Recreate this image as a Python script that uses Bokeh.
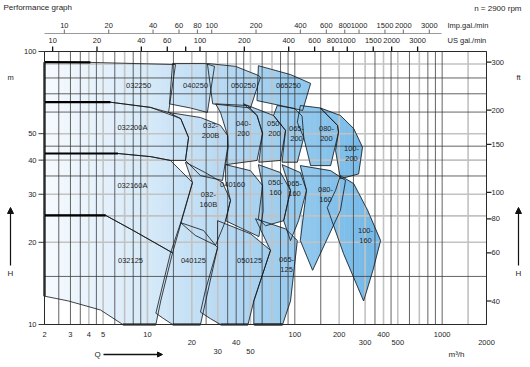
import math
from bokeh.plotting import figure
from bokeh.models import Range1d, Arrow, NormalHead
from bokeh.embed import file_html
from bokeh.resources import INLINE
from bokeh.core.properties import value

# ---------------- axis values ----------------
q_ticks = [2, 3, 4, 5, 10, 20, 30, 40, 50, 100, 200, 300, 400, 500, 1000, 2000]
q_tick_row = [0, 0, 0, 0, 0, 1, 2, 1, 2, 0, 0, 1, 0, 1, 0, 1]
h_ticks = [10, 20, 30, 40, 50, 100]
ft_ticks = [40, 60, 80, 100, 150, 200, 300]
us_gpm = [10, 20, 40, 60, 80, 100, 200, 400, 600, 800, 1000, 1500, 2000, 3000]
us_gpm_text = ["10", "20", "40", "60", "", "100", "200", "400", "600", "800", "1000", "1500", "2000", "3000"]
imp_gpm = [10, 20, 40, 60, 80, 100, 200, 400, 600, 800, 1000, 1500, 2000, 3000]
grid_steps = [1, 1.5, 2, 2.5, 3, 3.5, 4, 4.5, 5, 6, 7, 8, 9]
q_grid_light = [4, 5, 7, 10, 20, 30, 50, 70, 200, 300, 400, 500, 700, 1500]
h_grid_light = [20, 25, 30, 40, 50, 90]

# ---------------- tiles (Q m3/h, H m) ----------------
T_032250 = [(2, 91.4), (4.1, 91.2), (15.5, 89.6), (13.9, 59.8), (10.5, 62.4), (5.6, 65.2), (2, 65.2)]
T_032200A = [(2, 65.2), (5.6, 65.2), (10.5, 62.4), (16.8, 56.8), (19.0, 48.4), (18.1, 39.9), (14.3, 39.9), (10.5, 41.2), (6.3, 42.3), (2, 42.3)]
T_032160A = [(2, 42.3), (6.3, 42.3), (10.5, 41.2), (14.3, 39.9), (16.8, 36.6), (20.2, 33.1), (14.8, 18.3), (8.0, 22.1), (5.2, 25.1), (2, 25.1)]
T_032125 = [(2, 25.1), (5.2, 25.1), (8.0, 22.1), (14.8, 18.3), (12.3, 12.2), (11.4, 10), (6.8, 10), (4.8, 11.3), (2.9, 12.2), (2, 12.7)]
T_040250 = [(14.8, 90.4), (24.7, 90.4), (28.5, 88.2), (25.5, 59.8), (19.6, 62.1), (14.1, 64.3)]
T_050250 = [(25.5, 90.4), (39.6, 88.2), (56.6, 81.7), (58.5, 80.5), (50, 62.1), (27.7, 64.3)]
T_065250 = [(56.6, 88.7), (93.5, 82.3), (128, 76.4), (113, 60.8), (80, 63.4), (55.4, 66.1)]
T_032200B = [(13.9, 59.8), (22.9, 57.3), (31.3, 53.6), (35, 49.2), (35, 44.6), (32.3, 33.7), (22.9, 35.1), (18.1, 39.9), (19.0, 48.4), (16.8, 56.8)]
T_040200 = [(29, 64.3), (47.8, 63.4), (55.4, 58.3), (60.4, 50.1), (55.4, 39.9), (34, 38.5), (35.3, 44.6), (35, 49.2), (31.3, 59.8)]
T_050200 = [(44.8, 64.3), (71.7, 58.3), (86.5, 51.4), (80, 39.9), (57, 39.3), (60.4, 50.1), (55.4, 58.3)]
T_065200 = [(76, 63.4), (100, 61.8), (112, 58), (115, 48.4), (104, 39.3), (82, 39.3), (86.5, 51.4), (71.7, 58.3)]
T_080200 = [(109, 63.4), (149, 62.1), (195, 53.6), (198, 50.6), (175, 38.2), (128, 38.2), (115, 48.4), (104, 55)]
T_100200 = [(149, 62.1), (204, 58.3), (251, 52.2), (288, 44.6), (271, 35.6), (204, 34.2), (189, 43.4), (198, 50.6), (195, 53.6)]
T_032160B = [(18.1, 39.3), (24.7, 36), (32.3, 33.1), (36.6, 28.5), (33.9, 24), (29, 19.5), (21.1, 21.2), (16.8, 23.6), (20.2, 33.1)]
T_040160 = [(33.9, 38.5), (50, 36.6), (60.4, 32.3), (61, 26), (57, 21), (45, 22.3), (33.9, 24), (36.6, 28.5), (33.9, 33.7)]
T_050160 = [(56.6, 38.5), (80, 36), (93.5, 31), (84, 24), (63.3, 23), (56.6, 24.4), (60.4, 32.3)]
T_065160 = [(82, 38.5), (109, 36), (120, 31), (106, 24), (93.5, 20.3), (84, 24), (93.5, 31)]
T_080160 = [(109, 38.2), (175, 36.6), (221, 33.7), (204, 26.2), (132, 15.8), (109, 20.3), (120, 31)]
T_100160 = [(204, 35.1), (251, 32.8), (312, 26.2), (382, 20.3), (339, 15.8), (293, 12.2), (214, 18.2), (166, 26.8), (189, 31)]
T_040125 = [(16.8, 23.6), (24, 22.1), (29.9, 19.1), (22.9, 10), (14.8, 10), (12.9, 10.5), (11.4, 11), (14.3, 18.2)]
T_050125 = [(29.9, 24), (50, 21.5), (68.4, 18.7), (52.7, 12.2), (48.1, 10), (31.3, 10), (26.8, 10.5), (22.9, 11.1), (24.7, 13.3), (29.9, 19.1)]
T_065125 = [(54.1, 24.4), (86.5, 22.4), (104, 20.3), (93.5, 12.2), (82.6, 10), (52.7, 10), (52.7, 12.2), (68.4, 18.7)]

tiles = [T_032250, T_032200A, T_032160A, T_032125, T_040250, T_050250, T_065250,
         T_032200B, T_040200, T_050200, T_065200, T_080200, T_100200,
         T_032160B, T_040160, T_050160, T_065160, T_080160, T_100160,
         T_040125, T_050125, T_065125]
shutoff_tiles = [T_032250, T_032200A, T_032160A, T_032125]

tile_names = ["032250", "040250", "050250", "065250",
              "032200A", "032-\n200B", "040-\n200", "050-\n200", "065-\n200", "080-\n200", "100-\n200",
              "032160A", "032-\n160B", "040160", "050-\n160", "065-\n160", "080-\n160", "100-\n160",
              "032125", "040125", "050125", "065-\n125"]
tile_name_q = [8.7, 21.2, 44.8, 90.6,
               7.9, 26.8, 44.8, 72.8, 102.7, 164, 242.5,
               7.9, 25.9, 37.8, 74, 99.5, 161.6, 301.9,
               7.67, 20.5, 49.3, 87.9]
tile_name_h = [75, 75, 75, 75,
               52.7, 51.4, 52.2, 52.2, 50.1, 50.1, 42.3,
               32.3, 28.7, 32.6, 31.8, 31.5, 29.9, 21.2,
               17.2, 17.2, 17.2, 16.6]

# ---------------- layout helpers (reference pixel -> data) ----------------
PX = 442 / 3.0
PY = 273.0


def qx(rx):
    return 2 * 10 ** ((rx - 44) / PX)


def hy(ry):
    return 10 * 10 ** ((324 - ry) / PY)


FONT = value("Liberation Sans")
TXT = "#1e1e1e"
WIDTH, HEIGHT = 522, 359

p = figure(width=WIDTH, height=HEIGHT, x_axis_type="log", y_axis_type="log",
           x_range=Range1d(qx(0), qx(WIDTH)), y_range=Range1d(hy(HEIGHT), hy(0)),
           x_axis_location=None, y_axis_location=None,
           toolbar_location=None, output_backend="svg", min_border=0,
           outline_line_color=None, background_fill_color="white",
           border_fill_color="white")
p.grid.visible = False
p.title.visible = False

# ---------------- gradient fill of tiles ----------------
stops_q = [2, 10, 30, 100, 300, 2000]
stops_c = [(246, 250, 254), (214, 234, 249), (186, 218, 243), (150, 202, 238), (118, 186, 232), (110, 180, 230)]


def grad(lq):
    ls = [math.log10(s) for s in stops_q]
    if lq <= ls[0]:
        c = stops_c[0]
    else:
        c = stops_c[-1]
        for i in range(len(ls) - 1):
            if ls[i] <= lq <= ls[i + 1]:
                t = (lq - ls[i]) / (ls[i + 1] - ls[i])
                c = tuple(stops_c[i][k] + t * (stops_c[i + 1][k] - stops_c[i][k]) for k in range(3))
                break
    return "#%02x%02x%02x" % tuple(int(round(v)) for v in c)


def clip_half(poly, x0, keep_right):
    out = []
    n = len(poly)
    for i in range(n):
        cx, cy = poly[i]
        px_, py_ = poly[i - 1]
        cin = cx >= x0 if keep_right else cx <= x0
        pin = px_ >= x0 if keep_right else px_ <= x0
        if cin:
            if not pin:
                t = (x0 - px_) / (cx - px_)
                out.append((x0, py_ + t * (cy - py_)))
            out.append((cx, cy))
        elif pin:
            t = (x0 - px_) / (cx - px_)
            out.append((x0, py_ + t * (cy - py_)))
    return out


NSTRIP = 70
l0, l1 = math.log10(2), math.log10(400)
sx, sy, sc = [], [], []
for k in range(NSTRIP):
    a = l0 + (l1 - l0) * k / NSTRIP
    b = l0 + (l1 - l0) * (k + 1) / NSTRIP
    col = grad((a + b) / 2)
    for tile in tiles:
        lp = [(math.log10(q), math.log10(h)) for q, h in tile]
        c1 = clip_half(lp, a, True)
        if len(c1) < 3:
            continue
        c2 = clip_half(c1, b, False)
        if len(c2) < 3:
            continue
        sx.append([10 ** u for u, _ in c2])
        sy.append([10 ** v for _, v in c2])
        sc.append(col)
p.patches(sx, sy, fill_color=sc, line_color=sc, line_width=0.6)

# ---------------- grid ----------------
qg = sorted(set(round(s * d, 6) for d in [1, 10, 100, 1000] for s in grid_steps if 2 <= s * d <= 2000) | {2000})
hg = sorted(set(round(s * 10, 6) for s in grid_steps) | {100})
dark_q = [v for v in qg if v not in q_grid_light]
light_q = [v for v in qg if v in q_grid_light]
dark_h = [v for v in hg if v not in h_grid_light]
light_h = [v for v in hg if v in h_grid_light]
p.multi_line([[v, v] for v in light_q], [[10, 100]] * len(light_q), line_color="#c2c2c2", line_width=1.6)
p.multi_line([[2, 2000]] * len(light_h), [[v, v] for v in light_h], line_color="#c2c2c2", line_width=1.6)
p.multi_line([[v, v] for v in dark_q], [[10, 100]] * len(dark_q), line_color="#3c3c3c", line_width=0.8)
p.multi_line([[2, 2000]] * len(dark_h), [[v, v] for v in dark_h], line_color="#3c3c3c", line_width=0.8)

# ---------------- tile outlines ----------------
p.patches([[q for q, _ in t] for t in tiles], [[h for _, h in t] for t in tiles],
          fill_alpha=0, line_color="#151515", line_width=0.8)

# thick edges: Q=2 edge, H=10 edge, shutoff head lines
tx, ty = [], []
for t in tiles:
    for i in range(len(t)):
        (q1, h1), (q2, h2) = t[i - 1], t[i]
        if (q1 == 2 and q2 == 2) or (h1 == 10 and h2 == 10):
            tx.append([q1, q2])
            ty.append([h1, h2])
for t in shutoff_tiles:
    tx.append([t[0][0], t[1][0]])
    ty.append([t[0][1], t[1][1]])
p.multi_line(tx, ty, line_color="black", line_width=2.2)

# ---------------- tile labels ----------------
p.text(tile_name_q, tile_name_h, text=tile_names, text_font=FONT, text_font_size="7.5px",
       text_align="center", text_baseline="middle", text_color=TXT, text_line_height=1.15)

# ---------------- axes ----------------
# left H (m)
p.ray([2] * len(h_ticks), h_ticks, length=6, length_units="screen", angle=math.pi, line_color="#222", line_width=0.9)
p.text([qx(36)] * len(h_ticks), h_ticks, text=[str(v) for v in h_ticks], text_font=FONT,
       text_font_size="7.5px", text_align="right", text_baseline="middle", text_color=TXT)
# right H (ft)
ft_m = [v * 0.3048 for v in ft_ticks]
p.ray([2000] * len(ft_m), ft_m, length=5, length_units="screen", angle=0, line_color="#222", line_width=1.2)
p.text([qx(491)] * len(ft_m), ft_m, text=[str(v) for v in ft_ticks], text_font=FONT,
       text_font_size="7.5px", text_align="left", text_baseline="middle", text_color=TXT)
# bottom Q (m3/h)
row_y = [334, 342, 351]
p.text(q_ticks, [hy(row_y[r]) for r in q_tick_row], text=[str(v) for v in q_ticks], text_font=FONT,
       text_font_size="7.5px", text_align="center", text_baseline="middle", text_color=TXT)
# top US gal/min
us_q = [v * 0.2271247 for v in us_gpm]
p.ray(us_q, [100] * len(us_q), length=5, length_units="screen", angle=math.pi / 2, line_color="#111",
      line_width=1.3)
p.text(us_q, [hy(40)] * len(us_q), text=us_gpm_text, text_font=FONT, text_font_size="7.5px",
       text_align="center", text_baseline="middle", text_color=TXT)
p.text([qx(447)], [hy(40)], text=["US gal./min"], text_font=FONT, text_font_size="7.5px",
       text_align="left", text_baseline="middle", text_color=TXT)
# top Imp gal/min
imp_q = [v * 0.2727654 for v in imp_gpm]
p.line([2, qx(441)], [hy(33), hy(33)], line_color="#9a9a9a", line_width=1.2)
p.ray(imp_q, [hy(33)] * len(imp_q), length=4, length_units="screen", angle=math.pi / 2,
      line_color="#777", line_width=1.1)
p.text(imp_q, [hy(25)] * len(imp_q), text=[str(v) for v in imp_gpm], text_font=FONT, text_font_size="7.5px",
       text_align="center", text_baseline="middle", text_color=TXT)
p.text([qx(447)], [hy(25)], text=["Imp.gal./min"], text_font=FONT, text_font_size="7.5px",
       text_align="left", text_baseline="middle", text_color=TXT)

# frame lines
p.multi_line([[2, 2000], [2, 2000], [2, 2], [2000, 2000]], [[10, 10], [100, 100], [10, 100], [10, 100]],
             line_color="#2a2a2a", line_width=1.0)

# ---------------- titles and unit labels ----------------
p.text([qx(3)], [hy(7)], text=["Performance graph"], text_font=FONT, text_font_size="8px",
       text_align="left", text_baseline="middle", text_color=TXT)
p.text([qx(521)], [hy(8)], text=["n = 2900 rpm"], text_font=FONT, text_font_size="8px",
       text_align="right", text_baseline="middle", text_color=TXT)
p.text([qx(10), qx(518)], [hy(77), hy(77)], text=["m", "ft"], text_font=FONT, text_font_size="7.5px",
       text_align="center", text_baseline="middle", text_color=TXT)
p.text([qx(10), qx(518)], [hy(273), hy(273)], text=["H", "H"], text_font=FONT, text_font_size="8px",
       text_align="center", text_baseline="middle", text_color=TXT)
for rx in [10, 518]:
    p.add_layout(Arrow(x_start=qx(rx), y_start=hy(265), x_end=qx(rx), y_end=hy(207), line_width=1.2,
                       line_color="#111", end=NormalHead(size=6, fill_color="#111", line_color="#111")))
p.text([qx(97)], [hy(354)], text=["Q"], text_font=FONT, text_font_size="8px",
       text_align="center", text_baseline="middle", text_color=TXT)
p.add_layout(Arrow(x_start=qx(103), y_start=hy(354), x_end=qx(162), y_end=hy(354), line_width=1.3,
                   line_color="#111", end=NormalHead(size=5, fill_color="#111", line_color="#111")))
p.text([qx(456)], [hy(354)], text=["m³/h"], text_font=FONT, text_font_size="8px",
       text_align="center", text_baseline="middle", text_color=TXT)

open("out.html", "w").write(file_html(p, INLINE))
